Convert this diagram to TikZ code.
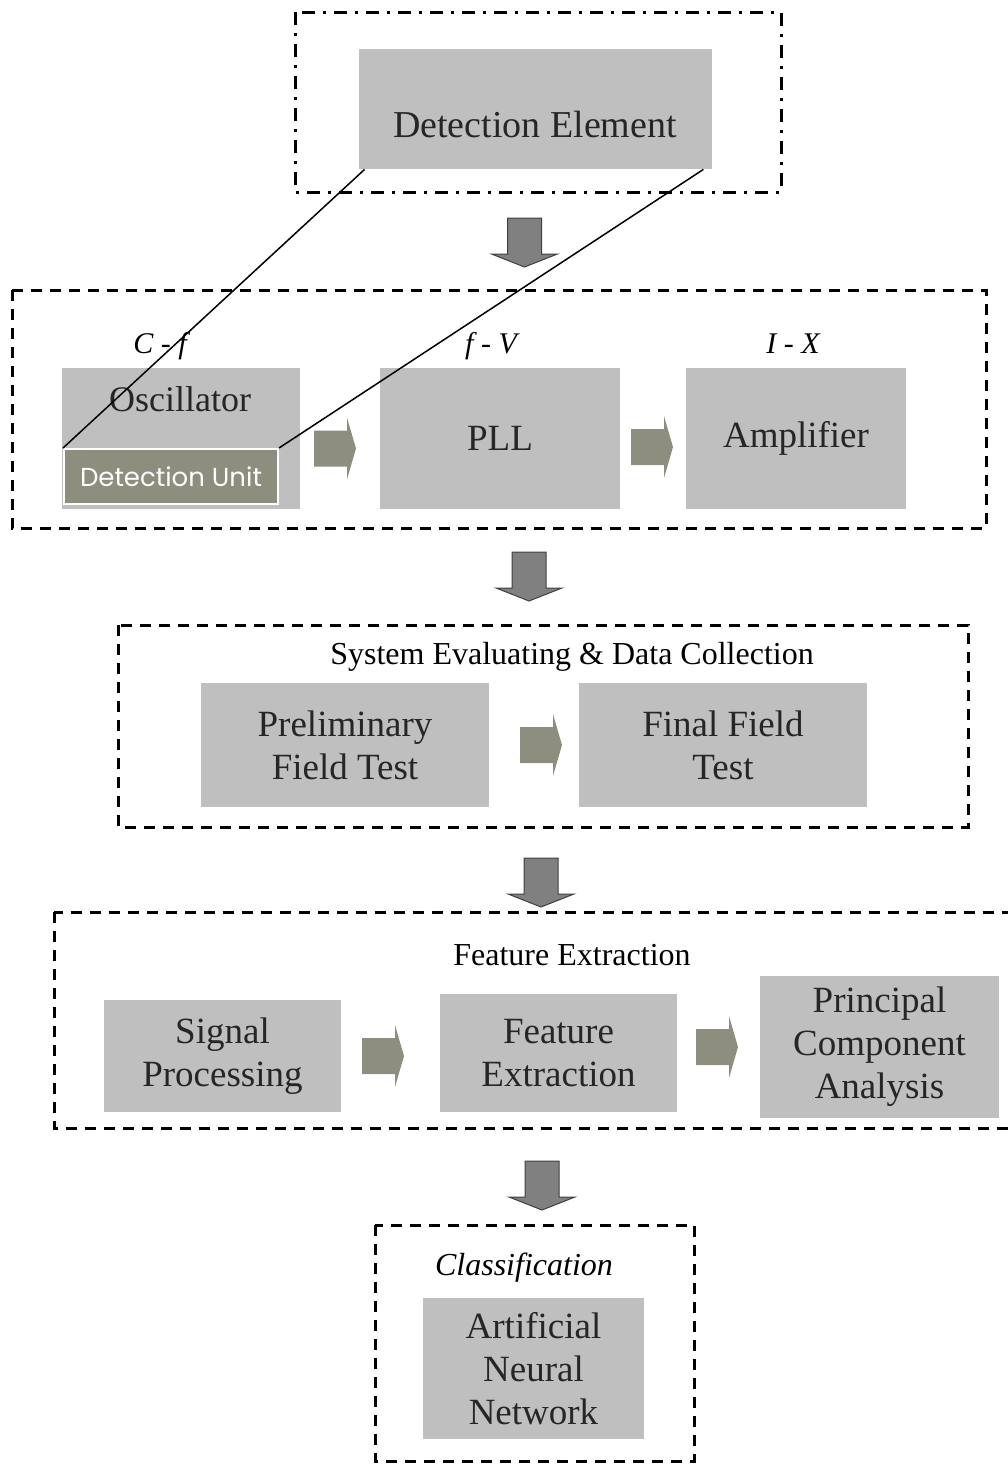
\documentclass[tikz,border=0pt]{standalone}
\usepackage{fontspec}
\setmainfont{Liberation Serif}
\newfontfamily\unitfont{Poppins}
\usetikzlibrary{positioning,calc}
\definecolor{BoxGrey}{RGB}{191,191,191}
\definecolor{ArrowOlive}{RGB}{142,142,126}
\definecolor{ArrowGrey}{RGB}{128,128,128}
\definecolor{ArrowEdge}{RGB}{64,64,64}
\definecolor{TextGrey}{RGB}{38,38,38}

\begin{document}
\begin{tikzpicture}[
    x=0.5pt, y=-0.5pt,
    greybox/.style 2 args={fill=BoxGrey, text=TextGrey, align=center, inner sep=0pt,
                           minimum width=#1, minimum height=#2,
                           font=\fontsize{18.5}{21.5}\selectfont},
    unitbox/.style={fill=ArrowOlive, draw=white, line width=1pt, text=white,
                    minimum width=107pt, minimum height=27.5pt, inner sep=0pt,
                    font=\unitfont\fontsize{13}{15}\selectfont},
    dashframe/.style={draw, line width=1.5pt, dash pattern=on 5.5pt off 4pt},
    dotframe/.style={draw, line width=1.5pt, dash pattern=on 6.5pt off 4pt on 1.5pt off 4pt},
    stagetitle/.style={anchor=base, font=\fontsize{16}{19}\selectfont},
    convlabel/.style={anchor=base, font=\itshape\fontsize{15}{18}\selectfont},
    wire/.style={line width=0.75pt},
    downarr/.pic={\filldraw[fill=ArrowGrey, draw=ArrowEdge, line width=0.5pt]
        (-17,0) -- (17,0) -- (17,36) -- (33,36) -- (0,49) -- (-33,36) -- (-17,36) -- cycle;},
    flowarr/.pic={\fill[ArrowOlive]
        (0,-18) -- (33,-18) -- (33,-31) -- (42,0) -- (33,31) -- (33,18) -- (0,18) -- cycle;}
]
    \clip (0,0) rectangle (1008,1464);

    \draw[dotframe] (295,12) rectangle (781,192);
    \draw[dashframe] (12,290) rectangle (986,528);
    \draw[dashframe] (118,625) rectangle (968,827);
    \draw[dashframe] (54,912) rectangle (1030,1128);
    \draw[dashframe] (375,1225) rectangle (694,1461);

    \node[greybox={176.5pt}{60pt}] (elem) at (535.5,109) {};
    \node[anchor=base, text=TextGrey, font=\fontsize{19}{23}\selectfont] (elemtext) at (535,137) {Detection Element};

    \node[greybox={119pt}{70.5pt}] (osc) at (181,438.5) {};
    \node[anchor=base, text=TextGrey, font=\fontsize{18}{21.5}\selectfont] (osctext) at (180,411) {Oscillator};
    \node[unitbox] (unit) at (171,476.5) {Detection Unit};
    \node[greybox={120pt}{70.5pt}] (pll) at (500,438.5) {PLL};
    \node[greybox={110pt}{70.5pt}] (amp) at (796,438.5) {Amplifier};
    \node[convlabel] (cf) at (160,353) {C - f};
    \node[convlabel] (fv) at (491,353) {f - V};
    \node[convlabel] (ix) at (793,353) {I - X};

    \node[stagetitle] (evaltitle) at (572,664) {System Evaluating \& Data Collection};
    \node[greybox={144pt}{62pt}] (prelim) at (345,745) {Preliminary\\Field Test};
    \node[greybox={144pt}{62pt}] (final) at (723,745) {Final Field\\Test};

    \node[stagetitle] (feattitle) at (572,965) {Feature Extraction};
    \node[greybox={118.5pt}{56pt}] (sig) at (222.5,1056) {Signal\\Processing};
    \node[greybox={118.5pt}{59pt}] (feat) at (558.5,1053) {Feature\\Extraction};
    \node[greybox={119.5pt}{71pt}] (pca) at (879.5,1047) {Principal\\Component\\Analysis};

    \node[stagetitle, font=\itshape\fontsize{16}{19}\selectfont] (classtitle) at (524,1275) {Classification};
    \node[greybox={110.5pt}{70.5pt}] (ann) at (533.5,1368.5) {Artificial\\Neural\\Network};

    \pic at (524.5,218) {downarr};
    \pic at (529,552) {downarr};
    \pic at (541,858) {downarr};
    \pic at (542,1161) {downarr};
    \pic at (314,448.5) {flowarr};
    \pic at (631,447) {flowarr};
    \pic at (520,745) {flowarr};
    \pic at (362,1056) {flowarr};
    \pic at (696,1047) {flowarr};

    \draw[wire] (unit.north west) -- ([xshift=3pt]elem.south west);
    \draw[wire] (unit.north east) -- ([xshift=-4.5pt]elem.south east);
\end{tikzpicture}
\end{document}
